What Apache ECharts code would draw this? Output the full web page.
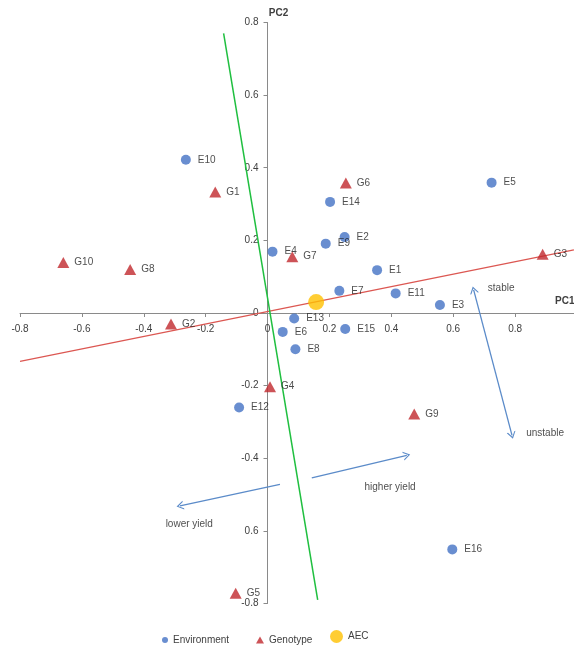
<!DOCTYPE html>
<html>
<head>
<meta charset="utf-8">
<script src="https://cdn.jsdelivr.net/npm/echarts@6/dist/echarts.min.js"></script>
<style>
  html, body { margin: 0; padding: 0; background: #fff; }
  #chart { width: 574px; height: 645px; }
</style>
</head>
<body>
<div id="chart"></div>
<script>
  // environments (PC1, PC2)
  const envNames = ['E1', 'E2', 'E3', 'E4', 'E5', 'E6', 'E7', 'E8', 'E9', 'E10', 'E11', 'E12', 'E13', 'E14', 'E15', 'E16'];
  const envPC1 = [0.354, 0.249, 0.557, 0.016, 0.724, 0.049, 0.232, 0.090, 0.188, -0.264, 0.414, -0.092, 0.086, 0.202, 0.251, 0.597];
  const envPC2 = [0.118, 0.209, 0.022, 0.169, 0.359, -0.052, 0.061, -0.100, 0.191, 0.422, 0.054, -0.260, -0.015, 0.306, -0.044, -0.651];

  // genotypes (PC1, PC2)
  const genNames = ['G1', 'G2', 'G3', 'G4', 'G5', 'G6', 'G7', 'G8', 'G9', 'G10'];
  const genPC1 = [-0.169, -0.312, 0.889, 0.008, -0.103, 0.253, 0.080, -0.444, 0.474, -0.660];
  const genPC2 = [0.333, -0.030, 0.162, -0.203, -0.772, 0.358, 0.155, 0.120, -0.278, 0.139];

  // average environment coordinate
  const aecPoint = [0.157, 0.030];

  // AEC abscissa (red) and ordinate (green) lines, end points
  const aecAbscissa = [[-0.8, -0.133], [0.99, 0.174]];
  const aecOrdinate = [[-0.142, 0.77], [0.162, -0.79]];

  // blue arrows: [from, to, arrow at start, arrow at end]
  const arrowLines = [
    [[0.143, -0.454], [0.450, -0.392], false, true],
    [[0.040, -0.472], [-0.283, -0.531], false, true],
    [[0.666, 0.0635], [0.790, -0.337], true, true]
  ];

  // annotation texts
  const noteTexts = ['stable', 'unstable', 'higher yield', 'lower yield'];
  const notePos = [[0.755, 0.068], [0.897, -0.330], [0.396, -0.480], [-0.253, -0.582]];

  // tick labels (the -0.6 label reads "0.6" in the original)
  const xTickValues = [-0.8, -0.6, -0.4, -0.2, 0, 0.2, 0.4, 0.6, 0.8];
  const xTickLabels = ['-0.8', '-0.6', '-0.4', '-0.2', '0', '0.2', '0.4', '0.6', '0.8'];
  const yTickValues = [-0.8, -0.6, -0.4, -0.2, 0, 0.2, 0.4, 0.6, 0.8];
  const yTickLabels = ['-0.8', '0.6', '-0.4', '-0.2', '0', '0.2', '0.4', '0.6', '0.8'];

  const FONT = 'Liberation Sans';
  const AXIS_COLOR = '#8a8a8a';
  const TEXT_COLOR = '#404040';
  const BLUE = '#4472C4';
  const RED = '#C0282D';
  const ARROW_BLUE = '#5B8BC9';
  const CHEVRON = 'path://M0,10 L5,0 L10,10 L8.6,10 L5,2.8 L1.4,10 Z';

  // grid box; the axes are shifted onto the zero lines with offset
  const GRID_LEFT = 20, GRID_RIGHT = -3, GRID_TOP = 22.5, GRID_BOTTOM = 41.5;
  const X_ZERO_SHIFT = 247.5;   // px from grid left to PC1 = 0
  const Y_ZERO_SHIFT = 290.5;   // px from grid bottom to PC2 = 0

  function tickLabel(values, labels) {
    return function (v) {
      const r = Math.round(v * 10) / 10;
      const i = values.findIndex(t => Math.abs(t - r) < 1e-6);
      return i >= 0 && Math.abs(v - r) < 1e-6 ? labels[i] : '';
    };
  }

  const chart = echarts.init(document.getElementById('chart'));

  chart.setOption({
    animation: false,
    backgroundColor: '#fff',
    textStyle: { fontFamily: FONT },
    grid: {
      left: GRID_LEFT,
      right: GRID_RIGHT,
      top: GRID_TOP,
      bottom: GRID_BOTTOM,
      containLabel: false,
      outerBoundsMode: 'none'
    },
    legend: [
      {
        data: [{ name: 'Environment', icon: 'circle' }],
        left: 157, top: 630,
        itemWidth: 6, itemHeight: 6, itemGap: 4,
        textStyle: { fontSize: 10, color: TEXT_COLOR, fontFamily: FONT }
      },
      {
        data: [{ name: 'Genotype', icon: 'triangle' }],
        left: 251, top: 630,
        itemWidth: 8, itemHeight: 7,
        textStyle: { fontSize: 10, color: TEXT_COLOR, fontFamily: FONT }
      },
      {
        data: [{ name: 'AEC', icon: 'circle' }],
        left: 325, top: 625,
        itemWidth: 13, itemHeight: 13,
        textStyle: { fontSize: 10, color: TEXT_COLOR, fontFamily: FONT }
      }
    ],
    xAxis: {
      type: 'value',
      position: 'bottom',
      offset: -Y_ZERO_SHIFT,
      min: -0.8,
      max: 1.0,
      interval: 0.2,
      name: 'PC1',
      nameLocation: 'end',
      nameGap: -22,
      nameTextStyle: {
        fontSize: 10, fontWeight: 'bold', color: TEXT_COLOR,
        verticalAlign: 'bottom', padding: [0, 0, 7, 0]
      },
      splitLine: { show: false },
      axisLine: { onZero: false, lineStyle: { color: AXIS_COLOR } },
      axisTick: { length: 4, lineStyle: { color: AXIS_COLOR } },
      axisLabel: {
        margin: 11,
        fontSize: 10,
        color: TEXT_COLOR,
        showMaxLabel: false,
        formatter: tickLabel(xTickValues, xTickLabels)
      }
    },
    yAxis: {
      type: 'value',
      position: 'left',
      offset: -X_ZERO_SHIFT,
      min: -0.8,
      max: 0.8,
      interval: 0.2,
      name: 'PC2',
      nameLocation: 'end',
      nameGap: 4,
      nameTextStyle: { fontSize: 10, fontWeight: 'bold', color: TEXT_COLOR, padding: [0, 0, 0, 22] },
      splitLine: { show: false },
      axisLine: { onZero: false, lineStyle: { color: AXIS_COLOR } },
      axisTick: { length: 4, lineStyle: { color: AXIS_COLOR } },
      axisLabel: {
        margin: 9,
        fontSize: 10,
        color: TEXT_COLOR,
        formatter: tickLabel(yTickValues, yTickLabels)
      }
    },
    series: [
      {
        name: 'abscissa',
        type: 'line',
        data: aecAbscissa,
        symbol: 'none',
        silent: true,
        z: 1,
        lineStyle: { color: '#DC5752', width: 1.3 }
      },
      {
        name: 'ordinate',
        type: 'line',
        data: aecOrdinate,
        symbol: 'none',
        silent: true,
        z: 1,
        lineStyle: { color: '#1FBF3F', width: 1.5 }
      },
      {
        name: 'arrows',
        type: 'line',
        data: [],
        silent: true,
        z: 1,
        markLine: {
          silent: true,
          animation: false,
          symbolSize: [9, 7],
          label: { show: false },
          lineStyle: { color: ARROW_BLUE, width: 1.3, type: 'solid' },
          data: arrowLines.map(a => [
            { coord: a[0], symbol: a[2] ? CHEVRON : 'none' },
            { coord: a[1], symbol: a[3] ? CHEVRON : 'none' }
          ])
        }
      },
      {
        name: 'Environment',
        type: 'scatter',
        symbol: 'circle',
        symbolSize: 10,
        z: 3,
        itemStyle: { color: BLUE },
        label: {
          show: true,
          position: 'right',
          distance: 7,
          fontSize: 10,
          color: '#222',
          formatter: p => p.name
        },
        data: envNames.map((n, i) => ({ name: n, value: [envPC1[i], envPC2[i]] }))
      },
      {
        name: 'Genotype',
        type: 'scatter',
        symbol: 'triangle',
        symbolSize: [12, 11],
        z: 3,
        itemStyle: { color: RED },
        label: {
          show: true,
          position: 'right',
          distance: 5,
          fontSize: 10,
          color: '#222',
          formatter: p => p.name
        },
        data: genNames.map((n, i) => ({ name: n, value: [genPC1[i], genPC2[i]] }))
      },
      {
        name: 'AEC',
        type: 'scatter',
        symbol: 'circle',
        symbolSize: 16,
        z: 4,
        itemStyle: { color: '#FFC000' },
        data: [aecPoint]
      },
      {
        name: 'notes',
        type: 'scatter',
        symbolSize: 1,
        silent: true,
        z: 2,
        itemStyle: { color: 'rgba(255,255,255,0)' },
        label: {
          show: true,
          position: 'inside',
          fontSize: 10,
          color: '#222',
          formatter: p => p.name
        },
        data: noteTexts.map((t, i) => ({ name: t, value: notePos[i] }))
      }
    ]
  });
</script>
</body>
</html>
